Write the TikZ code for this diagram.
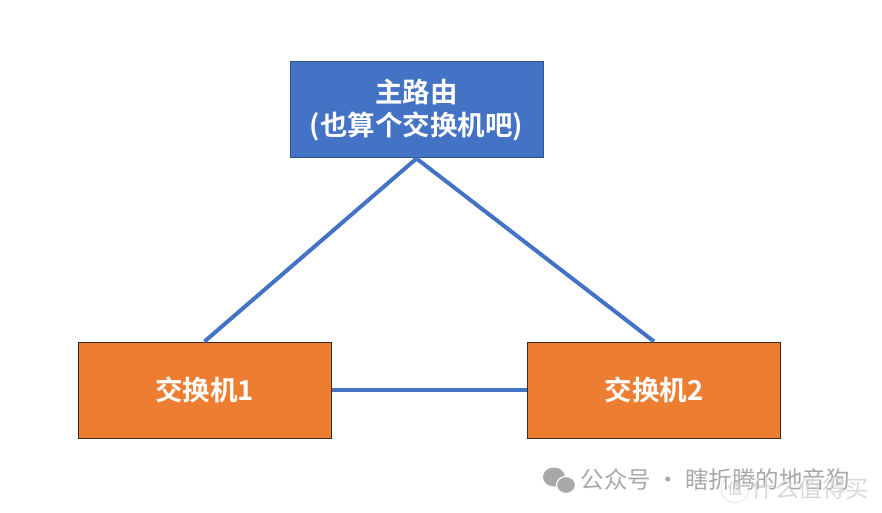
\documentclass[tikz,border=0pt]{standalone}
\usepackage{fontspec}
\newfontfamily\cjk{Noto Sans CJK SC}[BoldFont={Noto Sans CJK SC Bold}]
\usetikzlibrary{positioning}
\definecolor{routerblue}{HTML}{4472C4}
\definecolor{routeredge}{HTML}{2F528F}
\definecolor{switchorange}{HTML}{ED7D31}
\definecolor{switchedge}{HTML}{3A2A20}
\definecolor{markgray}{HTML}{A8A8A8}
\tikzset{
	router/.style={draw=routeredge, line width=1pt, fill=routerblue, minimum width=253, minimum height=96,
		text=white, align=center, font=\cjk\bfseries\fontsize{27.5}{33}\selectfont},
	switchbox/.style={draw=switchedge, line width=1pt, fill=switchorange, minimum width=253, minimum height=96,
		text=white, font=\cjk\bfseries\fontsize{27.5}{33}\selectfont},
	link/.style={draw=routerblue, line width=4pt},
	markfont/.style={font=\cjk\fontsize{23.5}{26}\selectfont}
}

\begin{document}
\begin{tikzpicture}[x=1pt, y=-1pt]
	\useasboundingbox (0, 0) rectangle (882, 513);
	
	\node[router] (main) at (416.5, 110) {主路由\\(也算个交换机吧)};
	\node[switchbox] (sw1) at (204.5, 390) {交换机1};
	\node[switchbox] (sw2) at (654, 390) {交换机2};
	
	\draw[link] (main.south) -- (sw1.north);
	\draw[link] (main.south) -- (sw2.north);
	\draw[link] (sw1.east) -- (sw2.west);
	
	% watermark
	\fill[markgray] (554, 477) ellipse (11 and 9.5);
	\fill[markgray, draw=white, line width=1.2pt] (566, 485) ellipse (9.5 and 8.5);
	\node[anchor=west, text=markgray, markfont] (wm) at (577, 480) {公众号 · 瞎折腾的地音狗};
	\node[anchor=west, text=markgray!45, markfont] (smzdm) at (748, 489) {什么值得买};
	\draw[markgray!55] (735, 489) circle (14) node[text=markgray!55, font=\cjk\fontsize{15}{16}\selectfont] (zhi) {值};
\end{tikzpicture}
\end{document}
